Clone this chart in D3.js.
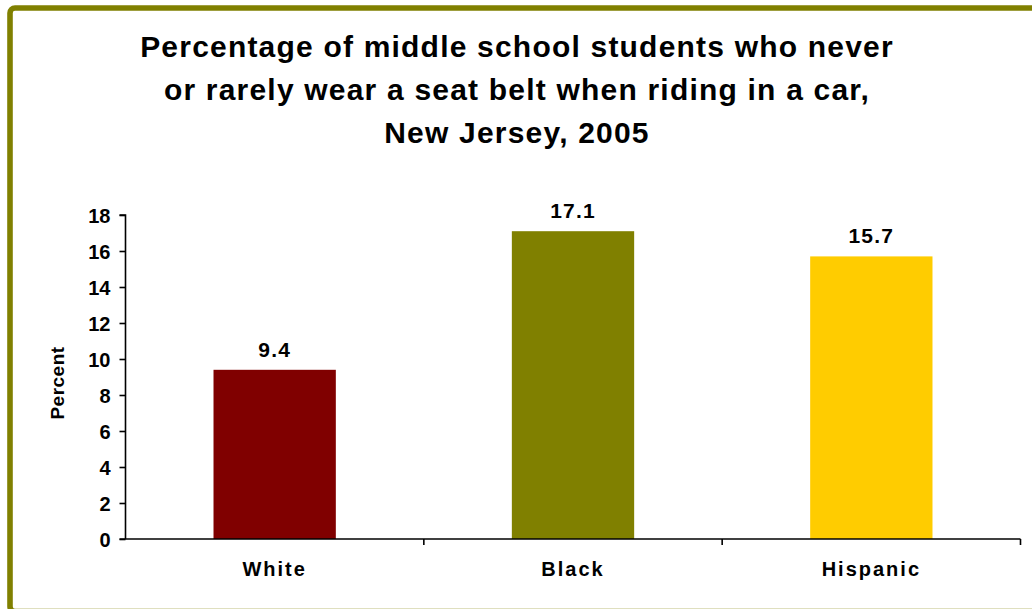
<!DOCTYPE html>
<html><head><meta charset="utf-8">
<script src="https://cdn.jsdelivr.net/npm/d3@7"></script>
<style>
html,body{margin:0;padding:0;background:#fff;}
svg{display:block;}
text{font-family:"Liberation Sans",Arial,sans-serif;font-weight:bold;fill:#000;}
</style></head>
<body>
<svg id="chart" width="1032" height="609"></svg>
<script>
const titleLines = ["Percentage of middle school students who never","or rarely wear a seat belt when riding in a car,","New Jersey, 2005"];
const categories = ["White","Black","Hispanic"];
const values = [9.4,17.1,15.7];
const barColors = ["#800000","#808000","#FFCC00"];
const yTicks = [0,2,4,6,8,10,12,14,16,18];
const yLabel = "Percent";

const svg = d3.select("#chart");

// frame
svg.append("rect").attr("x",10).attr("y",8).attr("width",1040).attr("height",603.6)
  .attr("rx",5).attr("fill","#fff").attr("stroke","#808000").attr("stroke-width",5.6);

// title
const title = svg.append("text").attr("text-anchor","middle").style("font-size","30px").style("letter-spacing","1.2px");
titleLines.forEach((l,i)=>{
  title.append("tspan").attr("x",517).attr("y",57+i*43).text(l);
});

const x0 = 125.5, x1 = 1020.5, y0 = 539, y1 = 215;
const x = d3.scaleBand().domain(categories).range([x0,x1]).paddingInner(0.59).paddingOuter(0.295);
const y = d3.scaleLinear().domain([0,18]).range([y0,y1]);

// bars
svg.selectAll("rect.bar").data(values).enter().append("rect").attr("class","bar")
  .attr("x",(d,i)=>x(categories[i])).attr("width",x.bandwidth())
  .attr("y",d=>y(d)).attr("height",d=>y(0)-y(d))
  .attr("fill",(d,i)=>barColors[i]);

// value labels
svg.selectAll("text.val").data(values).enter().append("text").attr("class","val")
  .attr("x",(d,i)=>x(categories[i])+x.bandwidth()/2).attr("y",d=>y(d)-13)
  .attr("text-anchor","middle").style("font-size","21px").style("letter-spacing","1.2px")
  .text(d=>d.toFixed(1));

// y axis
const yAxis = svg.append("g").attr("transform",`translate(${x0},0)`)
  .call(d3.axisLeft(y).tickValues(yTicks).tickSize(6).tickPadding(9).tickFormat(d3.format("d")));
yAxis.select(".domain").attr("stroke","#000").attr("stroke-width",1.6).attr("d",`M-6,${y1}H0V${y0}`);
yAxis.selectAll(".tick line").attr("stroke","#000").attr("stroke-width",1.6);
yAxis.selectAll(".tick text").style("font-size","20px").style("font-family","'Liberation Sans',Arial,sans-serif").style("font-weight","bold").attr("fill","#000").attr("dy","0.36em");

// x axis
const xAxis = svg.append("g").attr("transform",`translate(0,${y0})`);
xAxis.append("line").attr("x1",x0-6).attr("x2",x1).attr("y1",0).attr("y2",0).attr("stroke","#000").attr("stroke-width",1.6);
const bounds = categories.map((c,i)=>x0 + (i+1)*x.step());
xAxis.selectAll("line.t").data(bounds).enter().append("line").attr("class","t")
  .attr("x1",d=>d).attr("x2",d=>d).attr("y1",0).attr("y2",6).attr("stroke","#000").attr("stroke-width",1.6);
xAxis.selectAll("text.cat").data(categories).enter().append("text").attr("class","cat")
  .attr("x",d=>x(d)+x.bandwidth()/2).attr("y",37).attr("text-anchor","middle")
  .style("font-size","20px").style("letter-spacing","2px").text(d=>d);

// y label
svg.append("text").attr("transform",`translate(64,383) rotate(-90)`).attr("text-anchor","middle")
  .style("font-size","19px").style("letter-spacing","0.5px").text(yLabel);
</script>
</body></html>
